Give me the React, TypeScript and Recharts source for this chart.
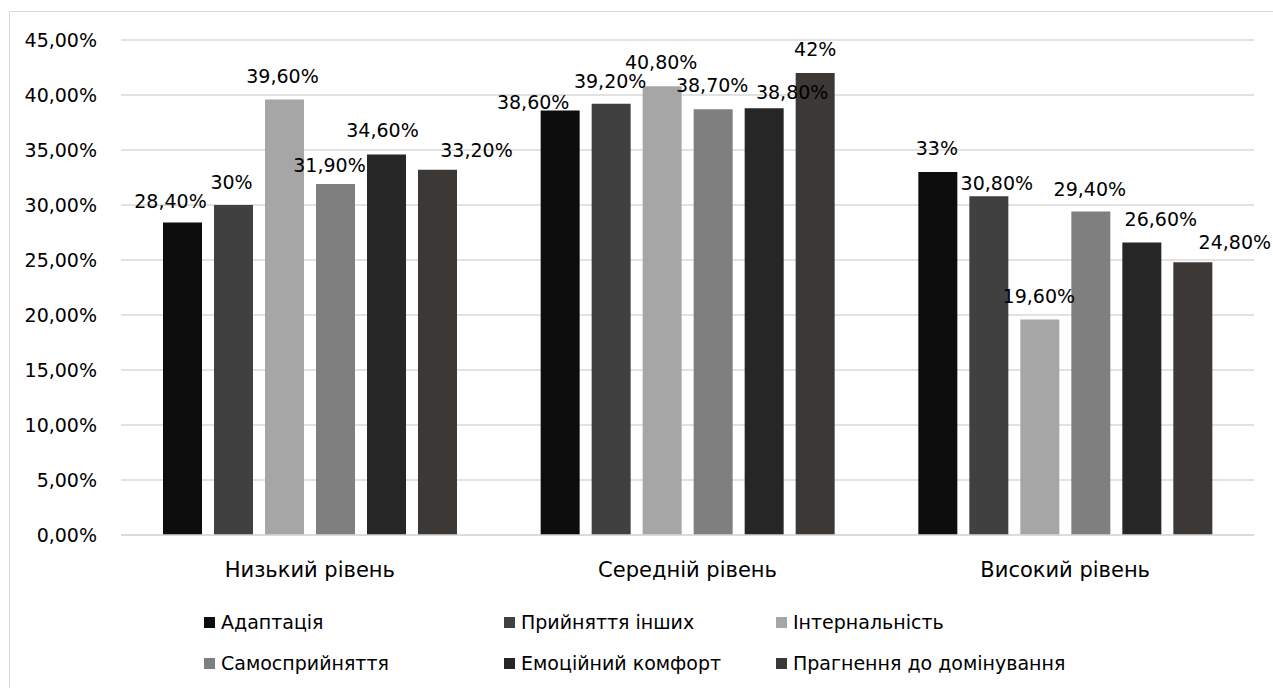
import React from 'react';
import { BarChart, Bar, XAxis, YAxis, CartesianGrid, LabelList } from 'recharts';

// Levels on the X axis
const levels = ['Низький рівень', 'Середній рівень', 'Високий рівень'];

// Share of respondents per scale, %
const adaptation = [28.4, 38.6, 33];
const acceptanceOfOthers = [30, 39.2, 30.8];
const internality = [39.6, 40.8, 19.6];
const selfAcceptance = [31.9, 38.7, 29.4];
const emotionalComfort = [34.6, 38.8, 26.6];
const dominanceStriving = [33.2, 42, 24.8];

const yTicks = [0, 5, 10, 15, 20, 25, 30, 35, 40, 45];

const SERIES = [
  { key: 'adaptation', name: 'Адаптація', values: adaptation, color: '#0d0d0d' },
  { key: 'acceptance', name: 'Прийняття інших', values: acceptanceOfOthers, color: '#404040' },
  { key: 'internality', name: 'Інтернальність', values: internality, color: '#a6a6a6' },
  { key: 'selfAcceptance', name: 'Самосприйняття', values: selfAcceptance, color: '#7f7f7f' },
  { key: 'comfort', name: 'Емоційний комфорт', values: emotionalComfort, color: '#262626' },
  { key: 'dominance', name: 'Прагнення до домінування', values: dominanceStriving, color: '#3b3835' },
];

// hand-placed label nudges [dx, dy] per series, per level (dy = text centre above bar top)
const LABEL_NUDGE: [number, number][][] = [
  [[-12, -22], [-27, -8], [-1, -24]],
  [[-2, -23], [-1, -23], [8, -13]],
  [[-2, -23], [-1, -24], [-1, -23]],
  [[-6, -19], [-1, -24], [-1, -23]],
  [[-4, -24], [28, -16], [19, -23]],
  [[39, -20], [0, -24], [42, -20]],
];

const data = levels.map((level, i) => {
  const row: Record<string, string | number> = { level };
  SERIES.forEach(s => { row[s.key] = s.values[i]; });
  return row;
});

const FONT = "'DejaVu Sans', 'Liberation Sans', sans-serif";
const FONT_SIZE = 19;

const fmtTick = (v: number) => `${v.toFixed(2).replace('.', ',')}%`;
const fmtLabel = (v: number) =>
  Number.isInteger(v) ? `${v}%` : `${v.toFixed(2).replace('.', ',')}%`;

const makeLabel = (seriesIdx: number) => (props: any) => {
  const { x, y, width, value, index } = props;
  const [dx, dy] = LABEL_NUDGE[seriesIdx][index] || [0, -23];
  return (
    <text
      x={Number(x) + Number(width) / 2 + dx}
      y={Number(y) + dy + 7}
      textAnchor="middle"
      style={{ fontFamily: FONT, fontSize: FONT_SIZE }}
      fill="#000"
    >
      {fmtLabel(Number(value))}
    </text>
  );
};

// legend laid out in two rows of three
const LEGEND_POS = [
  { left: 194, top: 610 },
  { left: 494, top: 610 },
  { left: 766, top: 610 },
  { left: 194, top: 651 },
  { left: 494, top: 651 },
  { left: 766, top: 651 },
];

export default function App() {
  return (
    <div
      style={{
        position: 'absolute',
        left: 9,
        top: 11,
        width: 1264,
        height: 677,
        borderTop: '1px solid #d9d9d9',
        borderLeft: '1px solid #d9d9d9',
        boxSizing: 'border-box',
        background: '#fff',
        overflow: 'hidden',
        fontFamily: FONT,
      }}
    >
      <BarChart
        width={1263}
        height={676}
        data={data}
        margin={{ top: 28, right: 19, bottom: 113, left: 0 }}
        barSize={39}
        barGap={12}
        style={{ fontFamily: FONT }}
      >
        <CartesianGrid vertical={false} stroke="#d9d9d9" strokeWidth={1.5} />
        <XAxis
          dataKey="level"
          height={40}
          tickLine={false}
          axisLine={{ stroke: '#d9d9d9', strokeWidth: 1.5 }}
          tickSize={0}
          tickMargin={27}
          tick={{ fontFamily: FONT, fontSize: 21, fill: '#000' }}
          interval={0}
        />
        <YAxis
          width={111}
          domain={[0, 45]}
          ticks={yTicks}
          tickFormatter={fmtTick}
          tickLine={false}
          axisLine={false}
          tickSize={0}
          tickMargin={24}
          tick={{ fontFamily: FONT, fontSize: FONT_SIZE, fill: '#000' }}
        />
        {SERIES.map((s, si) => (
          <Bar key={s.key} dataKey={s.key} name={s.name} fill={s.color} isAnimationActive={false}>
            <LabelList dataKey={s.key} content={makeLabel(si)} />
          </Bar>
        ))}
      </BarChart>

      {SERIES.map((s, i) => (
        <div
          key={s.key}
          style={{
            position: 'absolute',
            left: LEGEND_POS[i].left,
            top: LEGEND_POS[i].top - 13,
            height: 26,
            display: 'flex',
            alignItems: 'center',
            fontSize: FONT_SIZE,
            color: '#000',
            whiteSpace: 'nowrap',
          }}
        >
          <span style={{ width: 11, height: 11, background: s.color, marginRight: 6, display: 'inline-block' }} />
          {s.name}
        </div>
      ))}
    </div>
  );
}
